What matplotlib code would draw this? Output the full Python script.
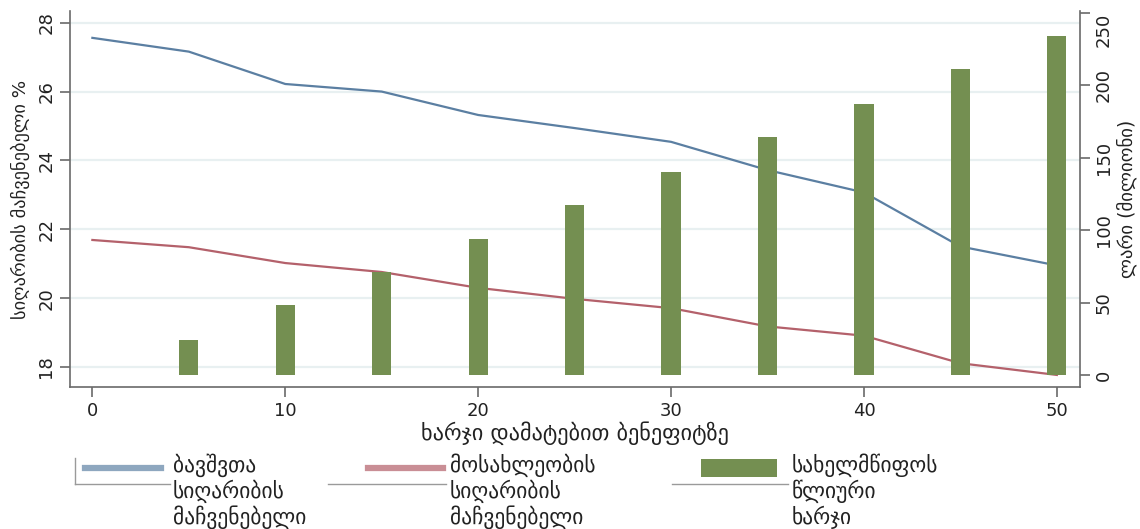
import matplotlib
matplotlib.use("Agg")
import matplotlib.pyplot as plt
from matplotlib.lines import Line2D
from matplotlib.patches import Rectangle

# data
benefit = [0, 5, 10, 15, 20, 25, 30, 35, 40, 45, 50]
child_poverty = [27.56, 27.16, 26.22, 26.0, 25.32, 24.94, 24.54, 23.72, 23.07, 21.5, 20.95]
pop_poverty = [21.69, 21.48, 21.02, 20.76, 20.30, 19.98, 19.71, 19.18, 18.91, 18.11, 17.77]
bar_x = [5, 10, 15, 20, 25, 30, 35, 40, 45, 50]
annual_cost = [24, 48, 71, 94, 117, 140, 164, 187, 211, 234]

left_ticks = [18, 20, 22, 24, 26, 28]
right_ticks = [0, 50, 100, 150, 200, 250]
x_ticks = [0, 10, 20, 30, 40, 50]

labels = ["ბავშვთა\nსიღარიბის\nმაჩვენებელი",
          "მოსახლეობის\nსიღარიბის\nმაჩვენებელი",
          "სახელმწიფოს\nწლიური\nხარჯი"]
x_label = "ხარჯი დამატებით ბენეფიტზე"
y_label = "სიღარიბის მაჩვენებელი %"
y2_label = "ლარი (მილიონი)"

blue = "#5b7fa2"
red = "#b4616b"
green = "#748f51"
spine_col = "#6a6a6a"
txt_col = "#222222"

plt.rcParams['font.family'] = ['DejaVu Sans Condensed', 'DejaVu Sans']

W, H = 1140, 529
fig = plt.figure(figsize=(W / 100, H / 100), dpi=100)
ax = fig.add_axes([70 / W, 1 - 387 / H, 1010 / W, 376 / H])
ax2 = ax.twinx()

# grid + lines on left axis
for t in left_ticks:
    ax.axhline(t, color="#e8f0f1", lw=1.6, zorder=0)
ax.plot(benefit, child_poverty, color=blue, lw=1.6, zorder=2)
ax.plot(benefit, pop_poverty, color=red, lw=1.6, zorder=2)

# bars on right axis
ax2.bar(bar_x, annual_cost, width=1.0, color=green, zorder=3)

ax.set_xlim(-1.16, 51.2)
ax.set_ylim(17.42, 28.34)
ax2.set_ylim(-8.3, 251.2)

for a in (ax, ax2):
    for s in a.spines.values():
        s.set_color(spine_col)
        s.set_linewidth(1.2)
    a.spines['top'].set_visible(False)
ax.spines['right'].set_visible(False)
ax2.spines['left'].set_visible(False)
ax2.spines['bottom'].set_visible(False)

ax.set_xticks(x_ticks)
ax.set_yticks(left_ticks)
ax2.set_yticks(right_ticks)
ax.tick_params(axis='both', colors=spine_col, labelcolor=txt_col, length=7, width=1.2,
               labelsize=13)
ax2.tick_params(axis='y', colors=spine_col, labelcolor=txt_col, length=7, width=1.2,
                labelsize=13)
for lab in ax.get_yticklabels() + ax2.get_yticklabels():
    lab.set_rotation(90)
    lab.set_va('center')
ax2.get_yticklabels()[-1].set_va('top')

ax.set_xlabel(x_label, fontsize=16, color=txt_col, labelpad=1)
ax.set_ylabel(y_label, fontsize=13.2, color=txt_col, labelpad=5)
ax2.set_ylabel(y2_label, fontsize=13.5, color=txt_col, labelpad=3)

# legend drawn by hand: key aligned with first text line
line_y = [465, 491, 517]
fig.add_artist(Line2D([85 / W, 161 / W], [1 - 468 / H] * 2, color="#8ea7bf", lw=4.5))
fig.add_artist(Line2D([368 / W, 443 / W], [1 - 468 / H] * 2, color="#c98e95", lw=4.5))
fig.add_artist(Rectangle((701 / W, 1 - 477 / H), 76 / W, 18 / H, facecolor=green,
                         edgecolor="none"))
text_x = [173, 450, 792]
for tx, lab in zip(text_x, labels):
    for yy, part in zip(line_y, lab.split("\n")):
        fig.text(tx / W, 1 - yy / H, part, fontsize=15.5, color=txt_col,
                 ha='left', va='center')

# thin grey rules around the legend keys
def frule(x0, x1, y0, y1):
    fig.add_artist(Line2D([x0 / W, x1 / W], [1 - y0 / H, 1 - y1 / H],
                          color="#9a9a9a", lw=1.0))

frule(75, 75, 458, 484)
frule(75, 170, 484, 484)
frule(328, 446, 484, 484)
frule(672, 788, 484, 484)

fig.savefig("out.png", dpi=100)
